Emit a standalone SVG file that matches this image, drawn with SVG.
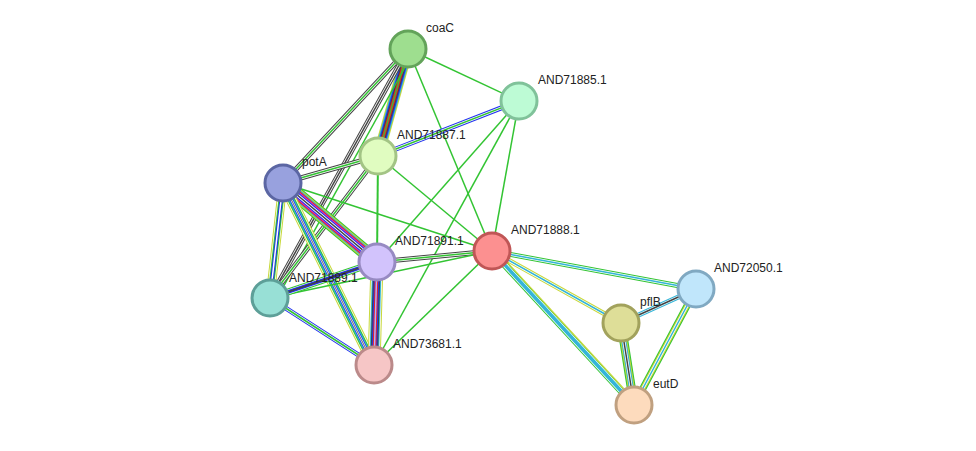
<svg xmlns="http://www.w3.org/2000/svg" width="976" height="451" viewBox="0 0 976 451">
<style>
line{stroke-linecap:butt}
.g{stroke:#33c433}.k{stroke:#444}.b{stroke:#2233ee}.c{stroke:#33b5d8}.y{stroke:#c8d83a}.r{stroke:#ee2222}.m{stroke:#cc33cc}.l{stroke:#aab0ff}.w{stroke:#fff}
circle{stroke-width:3}
text{font-family:"Liberation Sans",Arial,sans-serif;font-size:12px;fill:#222}
</style>
<rect width="976" height="451" fill="#fff"/>
<g id="connectors" stroke-width="1.5">
<line class="g" x1="408" y1="49" x2="519" y2="101"/>
<line class="g" x1="408" y1="49" x2="492" y2="251"/>
<g><line class="y" x1="408" y1="49" x2="378" y2="156" stroke-width="11"/><line class="c" x1="408" y1="49" x2="378" y2="156" stroke-width="9"/><line class="b" x1="408" y1="49" x2="378" y2="156" stroke-width="7"/><line class="k" x1="408" y1="49" x2="378" y2="156" stroke-width="5"/><line class="r" x1="408" y1="49" x2="378" y2="156" stroke-width="3"/><line class="g" x1="408" y1="49" x2="378" y2="156" stroke-width="1.2"/></g>
<g><line class="k" x1="408" y1="49" x2="283" y2="183" stroke-width="5"/><line class="w" x1="408" y1="49" x2="283" y2="183" stroke-width="3"/><line class="g" x1="408" y1="49" x2="283" y2="183" stroke-width="1.5"/></g>
<g><line class="k" x1="408" y1="49" x2="270" y2="298" stroke-width="5"/><line class="w" x1="408" y1="49" x2="270" y2="298" stroke-width="3"/><line class="k" x1="408" y1="49" x2="270" y2="298" stroke-width="1.5"/></g>
<line class="g" x1="408" y1="49" x2="270" y2="298" stroke-width="1.5" transform="translate(6,2)"/>
<g><line class="b" x1="519" y1="101" x2="378" y2="156" stroke-width="5"/><line class="w" x1="519" y1="101" x2="378" y2="156" stroke-width="3"/><line class="g" x1="519" y1="101" x2="378" y2="156" stroke-width="1.5"/></g>
<line class="g" x1="519" y1="101" x2="377" y2="262"/>
<line class="g" x1="519" y1="101" x2="374" y2="365"/>
<line class="g" x1="519" y1="101" x2="492" y2="251"/>
<g><line class="k" x1="378" y1="156" x2="283" y2="183" stroke-width="5"/><line class="w" x1="378" y1="156" x2="283" y2="183" stroke-width="3"/><line class="g" x1="378" y1="156" x2="283" y2="183" stroke-width="1.5"/></g>
<g><line class="k" x1="378" y1="156" x2="270" y2="298" stroke-width="5"/><line class="w" x1="378" y1="156" x2="270" y2="298" stroke-width="3"/><line class="g" x1="378" y1="156" x2="270" y2="298" stroke-width="1.5"/></g>
<line class="g" x1="378" y1="156" x2="377" y2="262" stroke-width="2"/>
<line class="g" x1="378" y1="156" x2="492" y2="251"/>
<line class="g" x1="283" y1="183" x2="492" y2="251"/>
<g><line class="g" x1="283" y1="183" x2="377" y2="262" stroke-width="15"/><line class="y" x1="283" y1="183" x2="377" y2="262" stroke-width="13"/><line class="c" x1="283" y1="183" x2="377" y2="262" stroke-width="11"/><line class="r" x1="283" y1="183" x2="377" y2="262" stroke-width="9"/><line class="m" x1="283" y1="183" x2="377" y2="262" stroke-width="7"/><line class="b" x1="283" y1="183" x2="377" y2="262" stroke-width="5"/><line class="w" x1="283" y1="183" x2="377" y2="262" stroke-width="3"/><line class="k" x1="283" y1="183" x2="377" y2="262" stroke-width="1.5"/></g>
<g><line class="y" x1="283" y1="183" x2="270" y2="298" stroke-width="9"/><line class="w" x1="283" y1="183" x2="270" y2="298" stroke-width="7"/><line class="g" x1="283" y1="183" x2="270" y2="298" stroke-width="5.5"/><line class="b" x1="283" y1="183" x2="270" y2="298" stroke-width="3.5"/><line class="w" x1="283" y1="183" x2="270" y2="298" stroke-width="1.5"/></g>
<g><line class="y" x1="283" y1="183" x2="374" y2="365" stroke-width="11"/><line class="w" x1="283" y1="183" x2="374" y2="365" stroke-width="9"/><line class="g" x1="283" y1="183" x2="374" y2="365" stroke-width="7.5"/><line class="c" x1="283" y1="183" x2="374" y2="365" stroke-width="5.5"/><line class="b" x1="283" y1="183" x2="374" y2="365" stroke-width="3.5"/><line class="w" x1="283" y1="183" x2="374" y2="365" stroke-width="2"/><line class="k" x1="283" y1="183" x2="374" y2="365" stroke-width="0.8"/></g>
<g><line class="k" x1="377" y1="262" x2="492" y2="251" stroke-width="5"/><line class="w" x1="377" y1="262" x2="492" y2="251" stroke-width="3"/><line class="g" x1="377" y1="262" x2="492" y2="251" stroke-width="1.5"/></g>
<line class="g" x1="270" y1="298" x2="492" y2="251"/>
<line class="g" x1="374" y1="365" x2="492" y2="251"/>
<g><line class="g" x1="270" y1="298" x2="377" y2="262" stroke-width="7"/><line class="w" x1="270" y1="298" x2="377" y2="262" stroke-width="5"/><line class="b" x1="270" y1="298" x2="377" y2="262" stroke-width="3.5"/><line class="k" x1="270" y1="298" x2="377" y2="262" stroke-width="1.5"/></g>
<g><line class="b" x1="270" y1="298" x2="374" y2="365" stroke-width="5"/><line class="w" x1="270" y1="298" x2="374" y2="365" stroke-width="3"/><line class="g" x1="270" y1="298" x2="374" y2="365" stroke-width="1.5"/></g>
<g><line class="y" x1="377" y1="262" x2="374" y2="365" stroke-width="13"/><line class="w" x1="377" y1="262" x2="374" y2="365" stroke-width="11"/><line class="c" x1="377" y1="262" x2="374" y2="365" stroke-width="9.5"/><line class="k" x1="377" y1="262" x2="374" y2="365" stroke-width="7.5"/><line class="b" x1="377" y1="262" x2="374" y2="365" stroke-width="5.5"/><line class="r" x1="377" y1="262" x2="374" y2="365" stroke-width="3.5"/><line class="l" x1="377" y1="262" x2="374" y2="365" stroke-width="1.5"/></g>
<g><line class="g" x1="492" y1="251" x2="696" y2="289" stroke-width="5"/><line class="w" x1="492" y1="251" x2="696" y2="289" stroke-width="3"/><line class="c" x1="492" y1="251" x2="696" y2="289" stroke-width="1.5"/></g>
<g><line class="y" x1="492" y1="251" x2="621" y2="323" stroke-width="5"/><line class="w" x1="492" y1="251" x2="621" y2="323" stroke-width="3"/><line class="c" x1="492" y1="251" x2="621" y2="323" stroke-width="1.5"/></g>
<g><line class="g" x1="492" y1="251" x2="634" y2="405" stroke-width="7"/><line class="w" x1="492" y1="251" x2="634" y2="405" stroke-width="5"/><line class="c" x1="492" y1="251" x2="634" y2="405" stroke-width="3.5"/><line class="y" x1="492" y1="251" x2="634" y2="405" stroke-width="1.2" transform="translate(3,-2)"/></g>
<g><line class="c" x1="621" y1="323" x2="696" y2="289" stroke-width="5"/><line class="w" x1="621" y1="323" x2="696" y2="289" stroke-width="3"/><line class="k" x1="621" y1="323" x2="696" y2="289" stroke-width="1.5"/></g>
<g><line class="g" x1="621" y1="323" x2="634" y2="405" stroke-width="9"/><line class="y" x1="621" y1="323" x2="634" y2="405" stroke-width="7"/><line class="c" x1="621" y1="323" x2="634" y2="405" stroke-width="5"/><line class="w" x1="621" y1="323" x2="634" y2="405" stroke-width="3"/><line class="k" x1="621" y1="323" x2="634" y2="405" stroke-width="1.5"/></g>
<g><line class="g" x1="696" y1="289" x2="634" y2="405" stroke-width="7"/><line class="y" x1="696" y1="289" x2="634" y2="405" stroke-width="5"/><line class="w" x1="696" y1="289" x2="634" y2="405" stroke-width="3"/><line class="c" x1="696" y1="289" x2="634" y2="405" stroke-width="1.5"/></g>
</g>
<g id="coaC"><circle cx="408" cy="49" r="18" fill="#9ede8f" stroke="#63a35a"/><text x="426" y="32">coaC</text></g>
<g id="AND71885.1"><circle cx="519" cy="101" r="18" fill="#bdfbd5" stroke="#80c29a"/><text x="538" y="84">AND71885.1</text></g>
<g id="AND71887.1"><circle cx="378" cy="156" r="18" fill="#e0fcc0" stroke="#a3c485"/><text x="397" y="139">AND71887.1</text></g>
<g id="potA"><circle cx="283" cy="183" r="18" fill="#98a1de" stroke="#5b66a3"/><text x="302" y="166">potA</text></g>
<g id="AND71888.1"><circle cx="492" cy="251" r="18" fill="#fc9090" stroke="#c05656"/><text x="511" y="234">AND71888.1</text></g>
<g id="AND71891.1"><circle cx="377" cy="262" r="18" fill="#d2c3fc" stroke="#978ac2"/><text x="395" y="245">AND71891.1</text></g>
<g id="AND71889.1"><circle cx="270" cy="298" r="18" fill="#98e0d6" stroke="#5d9f98"/><text x="289" y="282">AND71889.1</text></g>
<g id="AND73681.1"><circle cx="374" cy="365" r="18" fill="#f6c6c6" stroke="#bb8a8a"/><text x="393" y="348">AND73681.1</text></g>
<g id="AND72050.1"><circle cx="696" cy="289" r="18" fill="#c0e6fb" stroke="#80a9c2"/><text x="714" y="272">AND72050.1</text></g>
<g id="pflB"><circle cx="621" cy="323" r="18" fill="#dede98" stroke="#a2a25c"/><text x="640" y="306">pflB</text></g>
<g id="eutD"><circle cx="634" cy="405" r="18" fill="#fddbbd" stroke="#c0a080"/><text x="653" y="388">eutD</text></g>
</svg>
